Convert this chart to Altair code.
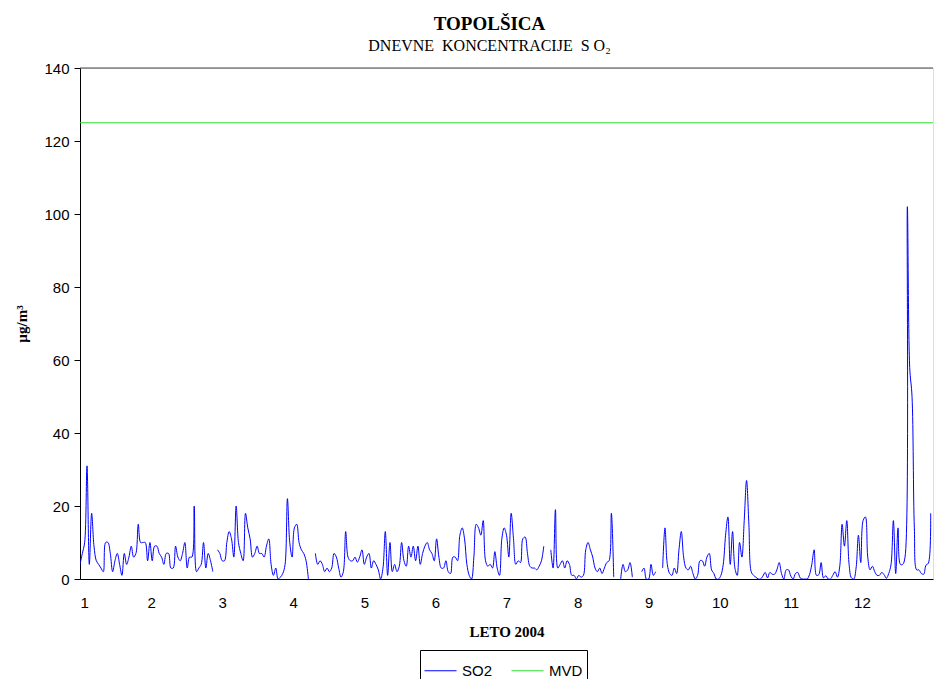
import altair as alt
import pandas as pd

# Dnevne koncentracije SO2 (µg/m3), Topolšica 2004, po mesecih; None = manjkajoči podatek
jan = [4, 7, 10, 31, 4, 18, 9, 5, 4, 3, 2, 10, 10, 7, 2, 5, 7, 4, 1, 7, 4, 6, 9, 6, 7, 15, 10, 10, 10, 5, 10]
feb = [5, 9, 9, 7, 6, 4, 7, 7, 3, 3, 9, 6, 5, 7, 10, 3, 6, 6, 20, 2, 3, 4, 10, 3, 7, 5, 2, None, 8]
mar = [7, 5, 5, 10, 13, 11, 6, 20, 10, 7, 5, 18, 14, 11, 6, 7, 9, 7, 7, 6, 9, 11, 4, 1, 3, 0, 0.5, 1.5, 4, 22, 10]
apr = [6, 14, 15, 10, 8, 7, 5, 0, None, None, 7, 4, 5, 4, 2, 3, 2, 3, 7, 6, 3, 0.5, 2, 13, 6, 5, 5, 6, 4.6, 6]
maj = [8, 4, 6, 7, 3, 5, 4, 2.5, 0, 3, 13, 1, 10, 2, 4, 2, 3.5, 10, 5, 3.5, 9, 6, 9, 5, 9, 4, 7, 9, 10, 8, 7]
jun = [5, 11, 6, 3, 3, 5, 2, 1.5, 6, 6, 5, 12, 14, 11, 4, 1, 0, 6, 15, 14, 12, 16, 5, 3.5, 4, 3, 7.5, 3, 1, 11]
jul = [14, 12, 6, 18, 11, 4, 5, 4.5, 11, 11.5, 7, 3.5, 3, 3, 2.5, 3.5, 5, 9, None, None, 8, 3, 19, 3, 4, 5, 3, 5, 4, 1, 1]
avg = [0, 1, 0.5, 1, 8, 10, 8, 6, 3, 2, 3, 1.5, 3, 4.5, 5, 18, 0.5, None, None, 0, 4, 2, 2.5, 4.5, 0.5, None, None, None, 2, 3, 0]
sep = [0, 4, 1, 2, None, None, 3, 14, 4, 1.5, 1, 3, 1.5, 8, 13, 6, 3, 2.5, 3.5, 1.5, 0, 1, 5, 5, 3.5, 6, 7, 2.5, 1.5, 0]
okt = [0, 1, 4, 12, 17, 4, 13, 3, 1, 10, 6, 16, 27, 15, 2, 1, 0.5, 0, 0, 0.8, 1.8, 0.3, 1.8, 1.3, 1.3, 2.5, 4.5, 1.5, 0, 2.5, 2.5]
nov = [0.8, 0, 1.5, 1.8, 0.3, 0, 0, 0, 1.2, 4, 8, 1, 1.2, 4.5, 0.3, 0.9, 0, 0, 1, 2, 0.5, 3.5, 15, 9, 16, 4, 0.3, 0, 3, 12]
dec = [4.5, 16, 17, 6, 2.5, 3.5, 2, 1, 1, 1.8, 1.2, 0.2, 1.5, 4, 16, 1.5, 14, 4, 4, 6, 102, 58, 50, 14, 2.5, 2.5, 1.5, 1.3, 3.8, 4.3, 18]

mvd = 125  # mejna vrednost
month_ticks = list(range(1, 13))
y_ticks = [0, 20, 40, 60, 80, 100, 120, 140]

so2 = jan + feb + mar + apr + maj + jun + jul + avg + sep + okt + nov + dec
n_days = len(so2)

# razdelitev na neprekinjene odseke (manjkajoči dnevi prekinejo črto)
rows = []
odsek = 0
prekinjeno = True
for i, v in enumerate(so2):
    if v is None:
        prekinjeno = True
        continue
    if prekinjeno:
        odsek += 1
        prekinjeno = False
    rows.append({"mesec": 1 + i * 12 / n_days, "vrednost": v, "serija": "SO2", "odsek": odsek})
so2_df = pd.DataFrame(rows)
mvd_df = pd.DataFrame({"mesec": [1, 13], "vrednost": [mvd, mvd], "serija": ["MVD", "MVD"], "odsek": [0, 0]})
top_df = pd.DataFrame({"vrednost": [140]})

x = alt.X(
    "mesec:Q",
    scale=alt.Scale(domain=[1, 13], nice=False, zero=False),
    axis=alt.Axis(
        values=month_ticks, format="d", title="LETO 2004", ticks=False,
        labelFont="Liberation Sans", labelFontSize=15, labelPadding=16, labelColor="#000",
        titleFont="Liberation Serif", titleFontSize=15, titleFontWeight="bold", titlePadding=14,
        titleColor="#000", domainColor="#000", grid=False,
    ),
)
y = alt.Y(
    "vrednost:Q",
    scale=alt.Scale(domain=[0, 140], nice=False),
    axis=alt.Axis(
        values=y_ticks, title="µg/m³", grid=False, tickSize=6, tickColor="#000",
        labelFont="Liberation Sans", labelFontSize=15, labelPadding=5, labelColor="#000",
        titleFont="Liberation Serif", titleFontSize=15, titleFontWeight="bold", titlePadding=14,
        titleColor="#000", domainColor="#000",
    ),
)
color = alt.Color(
    "serija:N",
    scale=alt.Scale(domain=["SO2", "MVD"], range=["#0000ff", "#33dd33"]),
    legend=alt.Legend(
        title=None, orient="none", legendX=340, legendY=582, direction="horizontal",
        symbolType="stroke", symbolSize=1024, symbolStrokeWidth=1,
        labelFont="Liberation Sans", labelFontSize=15, labelColor="#000", labelOffset=5,
        strokeColor="#000", fillColor="#fff", padding=4, columnPadding=16,
    ),
)

so2_line = alt.Chart(so2_df).mark_line(interpolate="catmull-rom", strokeWidth=1, clip=True).encode(
    x=x, y=y, color=color, detail="odsek:N"
)
mvd_line = alt.Chart(mvd_df).mark_line(strokeWidth=1, clip=True).encode(x=x, y=y, color=color)
top_line = alt.Chart(top_df).mark_rule(color="#444", strokeWidth=1).encode(y=alt.Y("vrednost:Q"))

chart = (
    alt.layer(top_line, mvd_line, so2_line)
    .properties(
        width=853,
        height=511,
        autosize=alt.AutoSizeParams(type="none"),
        padding={"left": 80, "top": 68, "right": 1, "bottom": 100},
        title=alt.TitleParams(
            text="TOPOLŠICA",
            subtitle="DNEVNE\u00a0\u00a0KONCENTRACIJE\u00a0\u00a0S\u00a0O₂",
            font="Liberation Serif", fontSize=19, fontWeight="bold", color="#000",
            subtitleFont="Liberation Serif", subtitleFontSize=16, subtitleColor="#000",
            subtitlePadding=4, anchor="middle", dx=-17, offset=7,
        ),
    )
    .configure_view(stroke=None)
    .configure(background="#ffffff")
)

chart.save("out.html", embed_options={"renderer": "svg", "actions": False})
